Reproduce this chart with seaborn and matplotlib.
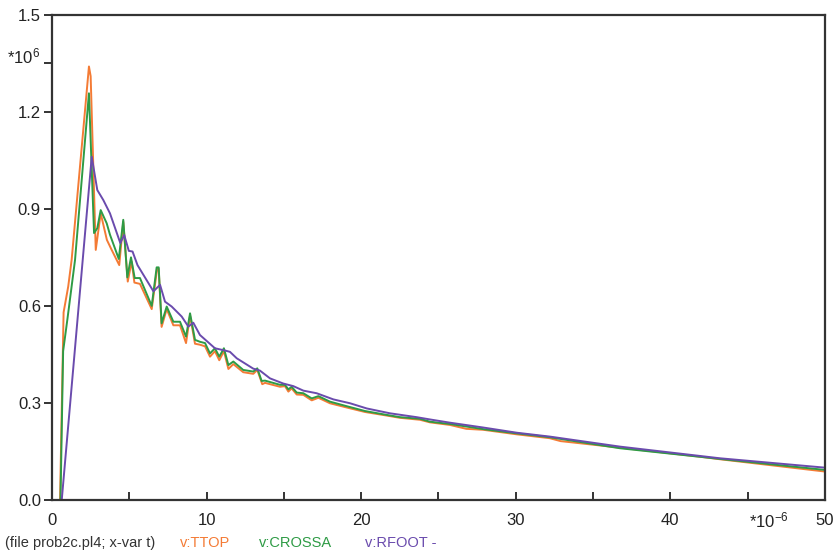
import numpy as np
import pandas as pd
import matplotlib
matplotlib.use("Agg")
import matplotlib.pyplot as plt
import seaborn as sns

# Time axis in microseconds, voltages in MV
t_ttop = [0, 0.52, 0.75, 1.05, 1.27, 2.39, 2.50, 2.83, 3.15, 3.55, 3.86, 4.35, 4.61, 4.90,
          5.15, 5.33, 5.69, 6.45, 6.80, 6.90, 7.09, 7.42, 7.85, 8.28, 8.67, 8.93, 9.25,
          9.57, 9.90, 10.22, 10.54, 10.82, 11.12, 11.41, 11.73, 12.37, 13.02, 13.28, 13.60,
          13.78, 14.75, 15.07, 15.29, 15.50, 15.83, 16.26, 16.80, 17.23, 17.98, 19.06,
          20.25, 21.65, 22.51, 23.80, 24.45, 25.74, 26.80, 27.90, 30.06, 32.20, 32.90,
          36.70, 41.90, 43.20, 50.0]
v_ttop = [0, 0, 0.58, 0.66, 0.742, 1.34, 1.31, 0.773, 0.886, 0.804, 0.773, 0.726, 0.86, 0.675,
          0.737, 0.672, 0.668, 0.59, 0.715, 0.715, 0.535, 0.59, 0.54, 0.54, 0.485, 0.57, 0.483,
          0.48, 0.475, 0.443, 0.46, 0.432, 0.46, 0.405, 0.42, 0.395, 0.39, 0.402, 0.358,
          0.362, 0.35, 0.352, 0.335, 0.345, 0.326, 0.325, 0.308, 0.316, 0.299, 0.286,
          0.272, 0.261, 0.254, 0.248, 0.24, 0.232, 0.220, 0.217, 0.203, 0.191, 0.182,
          0.162, 0.134, 0.126, 0.088]

t_crossa = [0, 0.55, 0.72, 1.0, 1.49, 2.39, 2.72, 2.93, 3.15, 3.54, 3.75, 4.32, 4.61, 4.87,
            5.11, 5.35, 5.69, 6.45, 6.77, 6.90, 7.09, 7.42, 7.85, 8.28, 8.67, 8.93, 9.25,
            9.57, 9.90, 10.22, 10.54, 10.82, 11.12, 11.41, 11.73, 12.37, 13.02, 13.28, 13.56,
            13.78, 14.75, 15.07, 15.29, 15.50, 15.83, 16.26, 16.80, 17.23, 17.98, 19.06,
            20.25, 21.65, 22.51, 23.80, 24.45, 25.74, 27.90, 30.06, 32.20, 36.74, 43.20, 50.0]
v_crossa = [0, 0, 0.46, 0.56, 0.742, 1.257, 0.825, 0.84, 0.896, 0.855, 0.82, 0.745, 0.866, 0.688,
            0.75, 0.686, 0.686, 0.60, 0.719, 0.719, 0.546, 0.598, 0.551, 0.551, 0.505, 0.577, 0.495,
            0.489, 0.485, 0.453, 0.469, 0.443, 0.469, 0.417, 0.428, 0.402, 0.397, 0.407, 0.368,
            0.369, 0.356, 0.356, 0.342, 0.35, 0.332, 0.33, 0.314, 0.321, 0.304, 0.29,
            0.275, 0.263, 0.256, 0.251, 0.242, 0.235, 0.219, 0.206, 0.194, 0.16, 0.127, 0.093]

t_rfoot = [0, 0.63, 2.57, 2.93, 3.32, 3.75, 4.42, 4.67, 4.97, 5.21, 5.53, 6.56, 6.99, 7.31,
           7.74, 8.39, 8.82, 9.14, 9.57, 10.54, 11.19, 11.51, 11.95, 13.02, 13.45, 14.10,
           14.96, 15.61, 16.26, 17.12, 18.20, 19.28, 20.36, 21.86, 23.59, 24.45, 25.74,
           27.90, 30.06, 32.20, 36.74, 43.20, 50.0]
v_rfoot = [0, 0, 1.061, 0.958, 0.927, 0.886, 0.794, 0.819, 0.77, 0.768, 0.726, 0.645, 0.665, 0.613,
           0.598, 0.567, 0.536, 0.548, 0.51, 0.469, 0.462, 0.458, 0.438, 0.406, 0.40, 0.376,
           0.36, 0.352, 0.338, 0.33, 0.311, 0.299, 0.283, 0.268, 0.256, 0.249, 0.239,
           0.224, 0.208, 0.196, 0.165, 0.129, 0.100]

series_names = ["v:TTOP", "v:CROSSA", "v:RFOOT -"]
series_colors = ["#F47B35", "#2E9B45", "#6A4BAD"]

x_ticks = [0, 5, 10, 15, 20, 25, 30, 35, 40, 45, 50]
x_labels = ["0", "", "10", "", "20", "", "30", "", "40", "", "50"]
y_ticks = [0.0, 0.3, 0.6, 0.9, 1.2, 1.35, 1.5]
y_labels = ["0.0", "0.3", "0.6", "0.9", "1.2", "", "1.5"]

df = pd.concat([
    pd.DataFrame({"t": t_ttop, "v": v_ttop, "node": series_names[0]}),
    pd.DataFrame({"t": t_crossa, "v": v_crossa, "node": series_names[1]}),
    pd.DataFrame({"t": t_rfoot, "v": v_rfoot, "node": series_names[2]}),
], ignore_index=True)

sns.set_theme(style="ticks")
plt.rcParams["font.family"] = ["Liberation Sans", "DejaVu Sans"]
plt.rcParams["mathtext.fontset"] = "custom"
plt.rcParams["mathtext.rm"] = "Liberation Sans"
plt.rcParams["mathtext.it"] = "Liberation Sans"

fig = plt.figure(figsize=(8.36, 5.56), dpi=100)
ax = fig.add_axes([0.0622, 0.1007, 0.9246, 0.8729])

sns.lineplot(data=df, x="t", y="v", hue="node", palette=series_colors,
             hue_order=series_names, estimator=None, sort=False,
             linewidth=1.4, legend=False, ax=ax)

ax.set_xlim(0, 50)
ax.set_ylim(0, 1.5)
ax.set_xlabel("")
ax.set_ylabel("")

frame_color = "#333333"
text_color = "#222222"
for side in ["left", "right", "top", "bottom"]:
    ax.spines[side].set_visible(True)
    ax.spines[side].set_color(frame_color)
    ax.spines[side].set_linewidth(1.6)

ax.set_xticks(x_ticks)
ax.set_xticklabels(x_labels)
ax.set_yticks(y_ticks)
ax.set_yticklabels(y_labels)
ax.tick_params(axis="x", direction="in", length=6, width=1.4, color=frame_color,
               labelsize=12, pad=9, labelcolor=text_color)
ax.tick_params(axis="y", direction="out", length=6, width=1.4, color=frame_color,
               labelsize=12, pad=2, labelcolor=text_color)

# Exponent markers for both axes
ax.text(-0.8, 1.37, r"*10$^{\mathregular{6}}$", ha="right", va="center",
        fontsize=12, color=text_color)
ax.text(45.1, -0.062, r"*10$^{\mathregular{-6}}$", ha="left", va="center",
        fontsize=12, color=text_color)

# Footer caption with series names in their line colours
fig.text(5 / 836, 1 - 543 / 556, "(file prob2c.pl4; x-var t)", ha="left", va="center",
         fontsize=10.5, color="#333333")
for name, col, xp in zip(series_names, series_colors, [180, 259, 365]):
    fig.text(xp / 836, 1 - 543 / 556, name, ha="left", va="center", fontsize=10.5, color=col)

fig.savefig("out.png", dpi=100, facecolor="white")
